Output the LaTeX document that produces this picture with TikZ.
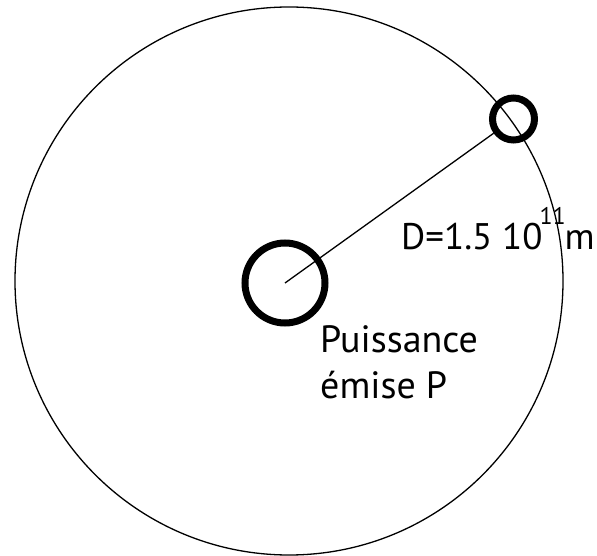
\documentclass[tikz,border=0pt]{standalone}
\usepackage{fontspec}
\setmainfont{PT Sans}
\begin{document}
\begin{tikzpicture}[x=1pt, y=1pt,
    body/.style={draw, circle, line width=7pt, inner sep=0pt},
    lbl/.style={inner sep=0pt, font=\fontsize{38}{46}\selectfont}]
      \useasboundingbox (0,0) rectangle (597,555);
      \node[draw, circle, line width=1.3pt, inner sep=0pt, minimum size=548pt] (orbit) at (289,274) {};
      \node[body, minimum size=80pt] (S) at (285,272) {};
      \node[body, minimum size=42pt] (T) at (513.5,436) {};
      \draw[line width=1.3pt] (S.center) -- (T);
      \node[lbl, anchor=base west, font=\fontsize{37}{46}\selectfont] (D) at (401,305)
        {D=1.5 10\hspace{-3pt}\raisebox{25pt}{\fontsize{24}{24}\selectfont 11}\hspace{-1pt}m};
      \node[lbl, anchor=base west, align=left] (P) at (320,157) {Puissance\\émise P};
    \end{tikzpicture}
\end{document}
